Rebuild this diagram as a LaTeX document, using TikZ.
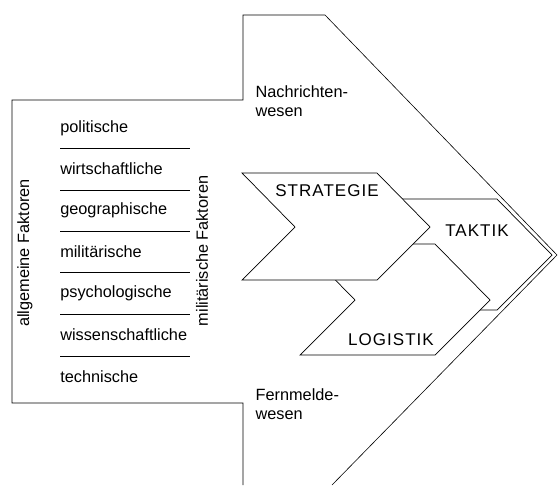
\documentclass[tikz,border=0pt]{standalone}
\usepackage{fontspec}
\setmainfont{Liberation Sans}

\begin{document}
\begin{tikzpicture}[x=1pt,y=-1pt,line width=0.6pt,
  font=\fontsize{16.3}{19}\selectfont,
  item/.style={anchor=west,inner sep=0pt},
  sep/.style={line width=0.7pt},
  chev/.style={draw,fill=white,line width=0.7pt},
  lbl/.style={font=\fontsize{17}{19}\selectfont\addfontfeatures{LetterSpace=6}}]
\useasboundingbox (0,0) rectangle (559,485);
\draw (243,485) -- (243,403) -- (12,403) -- (12,100) -- (243,100) -- (243,15)
  -- (325,15) -- (557,255) -- (332,485);
\node[anchor=west,align=left] (nach) at (252,101) {Nachrichten-\\wesen};
\node[anchor=west,align=left] (fern) at (252,404) {Fernmelde-\\wesen};
\node[item] (pol) at (60,128) {politische};
\node[item] (wir) at (60,169) {wirtschaftliche};
\node[item] (geo) at (60,210) {geographische};
\node[item] (mil) at (60,252) {militärische};
\node[item] (psy) at (60,293) {psychologische};
\node[item] (wis) at (60,335) {wissenschaftliche};
\node[item] (tec) at (60,377) {technische};
\draw[sep] (60,148) -- (190,148);
\draw[sep] (60,190) -- (190,190);
\draw[sep] (60,231) -- (190,231);
\draw[sep] (60,272) -- (190,272);
\draw[sep] (60,314) -- (190,314);
\draw[sep] (60,356) -- (190,356);
\node[rotate=90] (allg) at (25,253) {allgemeine Faktoren};
\node[rotate=90] (milf) at (202,251) {militärische Faktoren};
\draw[chev] (362,199) -- (497,199) -- (552,255) -- (497,310) -- (362,310) -- (417,255) -- cycle;
\draw[chev] (300,244) -- (435,244) -- (490,300) -- (435,355) -- (300,355) -- (355,300) -- cycle;
\draw[chev] (242,173) -- (377,173) -- (430,227) -- (377,280) -- (242,280) -- (295,227) -- cycle;
\node[lbl] (strat) at (327,191) {STRATEGIE};
\node[lbl] (takt) at (477,231) {TAKTIK};
\node[lbl] (logi) at (391,340) {LOGISTIK};
\end{tikzpicture}
\end{document}
